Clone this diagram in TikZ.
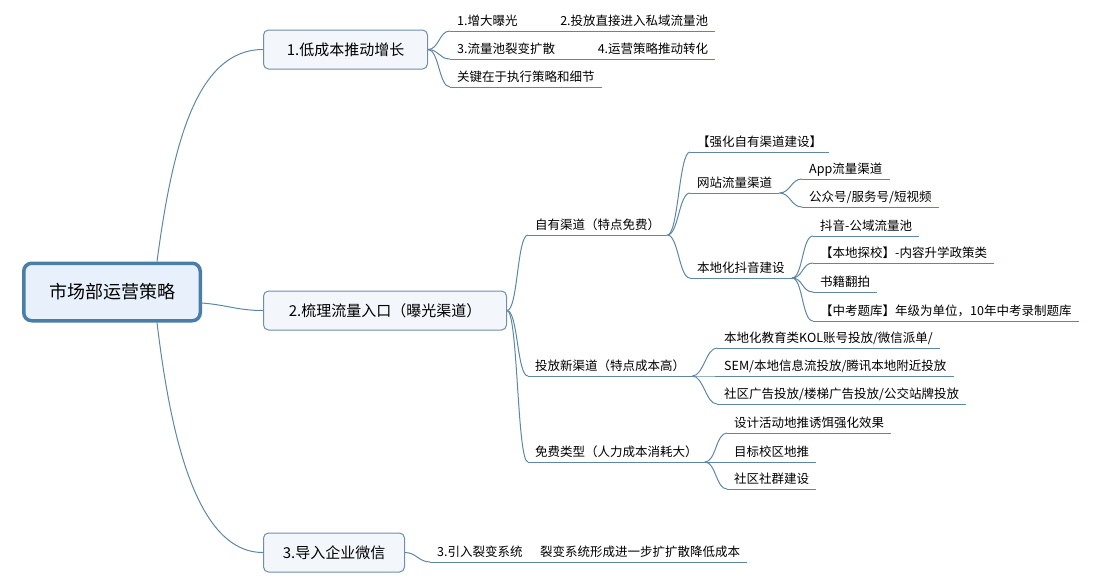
\documentclass[tikz,border=0pt]{standalone}
\usepackage{fontspec}
\setmainfont{Noto Sans CJK SC}
\usepackage{xcolor}
\usepackage{tikz}
\usetikzlibrary{calc}
\definecolor{twigblue}{HTML}{5E87A6}
\definecolor{rootline}{HTML}{4A7DA7}
\definecolor{rootfill}{HTML}{E8F1FB}
\definecolor{boxline}{HTML}{6D8FA9}
\definecolor{boxfill}{HTML}{F3F7FB}
\tikzset{
	branch/.style={draw=twigblue, line width=1pt},
	root/.style={draw=rootline, line width=3.5pt, fill=rootfill, rounded corners=8pt,
		minimum width=176.5pt, minimum height=57.5pt, font=\fontsize{18}{22}\selectfont},
	topic/.style={draw=boxline, line width=1pt, fill=boxfill, rounded corners=5pt,
		anchor=west, minimum height=39pt, minimum width=#1, font=\fontsize{15}{18}\selectfont},
	leaf/.style={anchor=south west, inner xsep=7pt, inner ysep=2.25pt, text height=10pt, text depth=3pt,
		font=\fontsize{12.5}{15}\selectfont,
		append after command={(\tikzlastnode.south west) edge[branch] (\tikzlastnode.south east)}}
}
\def\twig#1#2{\draw[branch] (#1) .. controls +(11,0) and +(-11,0) .. (#2);}

\begin{document}
\begin{tikzpicture}[x=1pt,y=-1pt]
	\useasboundingbox (0,0) rectangle (1097,582);
	\node[root] (plan) at (112,292) {市场部运营策略};
	\node[topic=164pt] (low) at (263,49.5) {1.低成本推动增长};
	\node[topic=243pt] (entry) at (263,310.5) {2.梳理流量入口（曝光渠道）};
	\node[topic=141pt] (wechat) at (263,552.5) {3.导入企业微信};
	\draw[branch] ($(plan.north)!0.5!(plan.north east)$) .. controls +(15,-112) and +(-68,0) .. (low.west);
	\draw[branch] ($(plan.east)+(0,11)$) .. controls +(25,2) and +(-25,0) .. (entry.west);
	\draw[branch] ($(plan.south)!0.5!(plan.south east)$) .. controls +(13,108) and +(-68,0) .. (wechat.west);
	\node[leaf, text width=251pt] (low1) at (450,31) {1.增大曝光\hfill 2.投放直接进入私域流量池};
	\node[leaf, text width=251pt] (low2) at (450,59) {3.流量池裂变扩散\hfill 4.运营策略推动转化};
	\node[leaf] (low3) at (450,87) {关键在于执行策略和细节};
	\twig{low.east}{low1.south west}
	\twig{low.east}{low2.south west}
	\twig{low.east}{low3.south west}
	\node[leaf] (own) at (528,235) {自有渠道（特点免费）};
	\node[leaf] (paid) at (528,376) {投放新渠道（特点成本高）};
	\node[leaf] (free) at (528,462) {免费类型（人力成本消耗大）};
	\twig{entry.east}{own.south west}
	\twig{entry.east}{paid.south west}
	\twig{entry.east}{free.south west}
	\node[leaf] (ownA) at (690,152) {【强化自有渠道建设】};
	\node[leaf] (web) at (690,193) {网站流量渠道};
	\node[leaf] (douyin) at (690,278) {本地化抖音建设};
	\twig{own.south east}{ownA.south west}
	\twig{own.south east}{web.south west}
	\twig{own.south east}{douyin.south west}
	\node[leaf] (app) at (802,179) {App流量渠道};
	\node[leaf] (media) at (802,207) {公众号/服务号/短视频};
	\twig{web.south east}{app.south west}
	\twig{web.south east}{media.south west}
	\node[leaf] (dy1) at (813,236) {抖音-公域流量池};
	\node[leaf] (dy2) at (813,263) {【本地探校】-内容升学政策类};
	\node[leaf] (dy3) at (813,292) {书籍翻拍};
	\node[leaf] (dy4) at (813,321) {【中考题库】年级为单位，10年中考录制题库};
	\twig{douyin.south east}{dy1.south west}
	\twig{douyin.south east}{dy2.south west}
	\twig{douyin.south east}{dy3.south west}
	\twig{douyin.south east}{dy4.south west}
	\node[leaf] (paid1) at (717,348) {本地化教育类KOL账号投放/微信派单/};
	\node[leaf] (paid2) at (717,376) {SEM/本地信息流投放/腾讯本地附近投放};
	\node[leaf] (paid3) at (717,404) {社区广告投放/楼梯广告投放/公交站牌投放};
	\twig{paid.south east}{paid1.south west}
	\twig{paid.south east}{paid2.south west}
	\twig{paid.south east}{paid3.south west}
	\node[leaf] (free1) at (727,433) {设计活动地推诱饵强化效果};
	\node[leaf] (free2) at (727,462) {目标校区地推};
	\node[leaf] (free3) at (727,489) {社区社群建设};
	\twig{free.south east}{free1.south west}
	\twig{free.south east}{free2.south west}
	\twig{free.south east}{free3.south west}
	\node[leaf, text width=303pt] (fission) at (430,562) {3.引入裂变系统\hfill 裂变系统形成进一步扩扩散降低成本};
	\twig{wechat.east}{fission.south west}
\end{tikzpicture}
\end{document}
